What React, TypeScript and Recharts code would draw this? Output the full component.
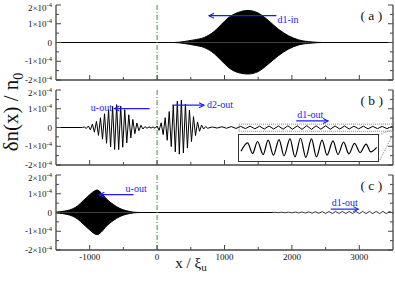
import React from 'react';
import {
  ComposedChart,
  LineChart,
  Line,
  Area,
  XAxis,
  YAxis,
  ReferenceLine,
  ReferenceArea,
} from 'recharts';

// values of δn/n0 are in units of 1e-4
const X_DOMAIN: [number, number] = [-1500, 3500];
const Y_DOMAIN: [number, number] = [-2, 2];
const xTicks = [-1000, -500, 0, 500, 1000, 1500, 2000, 2500, 3000];
const yTicks = [-2, -1.5, -1, -0.5, 0, 0.5, 1, 1.5, 2];
const yTickLabels: Record<string, string> = { '2': '2×10', '1': '1×10', '0': '0', '-1': '-1×10', '-2': '-2×10' };
const panelLabels = ['( a )', '( b )', '( c )'];

// (a) d1-in packet, envelope
const aUpper: [number, number][] = [
  [-1500, 0], [250, 0], [400, 0.05], [550, 0.14], [700, 0.27], [850, 0.6], [950, 0.95], [1050, 1.3],
  [1200, 1.6], [1350, 1.71], [1500, 1.57], [1650, 1.18], [1800, 0.71], [1950, 0.36], [2100, 0.14],
  [2300, 0.03], [2450, 0], [3500, 0],
];
const aLower: [number, number][] = [
  [-1500, 0], [250, 0], [400, -0.05], [550, -0.14], [700, -0.27], [850, -0.6], [950, -0.95], [1050, -1.3],
  [1200, -1.6], [1350, -1.68], [1500, -1.55], [1650, -1.15], [1800, -0.7], [1950, -0.35], [2100, -0.13],
  [2300, -0.03], [2450, 0], [3500, 0],
];

// (b) u-out and d2-out packets, then the d1-out ripple (extrema)
const bWave: [number, number][] = [
  [-1500, 0], [-1110, 0],
  [-1080, 0.03], [-1050, -0.05], [-1020, 0.08], [-990, -0.12], [-960, 0.18], [-930, -0.25], [-900, 0.33],
  [-870, -0.42], [-840, 0.52], [-810, -0.62], [-780, 0.73], [-750, -0.84], [-720, 0.95], [-690, -1.04],
  [-660, 1.13], [-630, -1.17], [-600, 1.22], [-570, -1.18], [-540, 1.14], [-510, -1.05], [-480, 0.95],
  [-450, -0.82], [-420, 0.68], [-390, -0.55], [-360, 0.43], [-330, -0.33], [-300, 0.24], [-270, -0.17],
  [-240, 0.12], [-210, -0.08], [-180, 0.05], [-150, -0.04], [-120, 0.03], [-90, -0.03], [-60, 0.03],
  [-30, -0.04], [0, 0.08], [30, -0.15], [60, 0.25], [90, -0.38], [120, 0.52], [150, -0.68], [180, 0.85],
  [210, -1.02], [240, 1.18], [270, -1.3], [300, 1.4], [330, -1.42], [360, 1.46], [390, -1.36], [420, 1.25],
  [450, -1.1], [480, 0.93], [510, -0.75], [540, 0.58], [570, -0.43], [600, 0.3], [630, -0.2], [660, 0.13],
  [690, -0.08], [720, 0.05], [750, -0.04],
  [820, 0.03], [890, -0.03], [960, 0.04], [1030, -0.04], [1100, 0.05], [1170, -0.05], [1240, 0.06],
  [1310, -0.06], [1380, 0.07], [1450, -0.07], [1520, 0.07], [1590, -0.08], [1660, 0.08], [1730, -0.08],
  [1800, 0.08], [1870, -0.09], [1940, 0.09], [2010, -0.09], [2080, 0.09], [2150, -0.1], [2220, 0.1],
  [2290, -0.1], [2360, 0.09], [2430, -0.09], [2500, 0.09], [2570, -0.09], [2640, 0.08], [2710, -0.08],
  [2780, 0.08], [2850, -0.08], [2920, 0.07], [2990, -0.07], [3060, 0.07], [3130, -0.07], [3200, 0.06],
  [3270, -0.06], [3340, 0.06], [3410, -0.06], [3480, 0.05], [3500, 0.03],
];

// (b) inset: magnified d1-out ripple (extrema, inset scale)
const insetWave: [number, number][] = [
  [1280, -0.25], [1380, 0.4], [1455, -0.42], [1530, 0.5], [1615, -0.5], [1690, 0.6], [1770, -0.55],
  [1855, 0.65], [1930, -0.6], [2020, 0.7], [2095, -0.68], [2180, 0.75], [2260, -0.72], [2345, 0.7],
  [2420, -0.68], [2505, 0.6], [2580, -0.55], [2670, 0.55], [2745, -0.5], [2830, 0.45], [2910, -0.45],
  [2995, 0.35], [3080, -0.35], [3170, 0.3], [3240, -0.3], [3330, 0.05],
];

// (c) u-out packet, envelope, then d1-out ripple
const cUpper: [number, number][] = [
  [-1500, 0.02], [-1450, 0.04], [-1350, 0.09], [-1250, 0.2], [-1180, 0.35], [-1100, 0.62], [-1000, 0.95],
  [-930, 1.15], [-890, 1.2], [-830, 1.05], [-750, 0.72], [-650, 0.43], [-550, 0.21], [-450, 0.09],
  [-350, 0.02], [-250, 0], [1700, 0],
];
const cLower: [number, number][] = [
  [-1500, -0.02], [-1450, -0.04], [-1350, -0.09], [-1250, -0.2], [-1180, -0.35], [-1100, -0.6], [-1000, -0.93],
  [-930, -1.13], [-890, -1.18], [-830, -1.05], [-750, -0.72], [-650, -0.43], [-550, -0.21], [-450, -0.09],
  [-350, -0.02], [-250, 0], [1700, 0],
];
const cRipple: [number, number][] = [
  [1700, 0], [1750, 0.01], [1800, -0.01], [1850, 0.015], [1900, -0.015], [1950, 0.02], [2000, -0.02],
  [2050, 0.025], [2100, -0.025], [2150, 0.03], [2200, -0.03], [2250, 0.035], [2300, -0.035], [2350, 0.04],
  [2400, -0.04], [2450, 0.045], [2500, -0.045], [2550, 0.05], [2600, -0.05], [2650, 0.05], [2700, -0.05],
  [2750, 0.055], [2800, -0.055], [2850, 0.055], [2900, -0.055], [2950, 0.06], [3000, -0.06], [3050, 0.06],
  [3100, -0.06], [3150, 0.06], [3200, -0.06], [3250, 0.06], [3300, -0.06], [3350, 0.06], [3400, -0.06],
  [3450, 0.06], [3500, -0.05],
];

// arrows with labels, [x, y] in data units
const arrows = [
  { panel: 0, from: [1770, 1.43], to: [770, 1.43], text: 'd1-in', at: 'from', dx: 1, dy: 7 },
  { panel: 1, from: [-110, 1.01], to: [-633, 1.01], text: 'u-out', at: 'to', dx: -2.5, dy: 2, anchor: 'end' },
  { panel: 1, from: [224, 1.19], to: [696, 1.19], text: 'd2-out', at: 'to', dx: 3, dy: 3 },
  { panel: 1, from: [2064, 0.35], to: [2537, 0.35], text: 'd1-out', at: 'from', dx: 1, dy: -3 },
  { panel: 2, from: [-349, 0.95], to: [-857, 0.95], text: 'u-out', at: 'from', dx: -8, dy: -3 },
  { panel: 2, from: [2577, 0.18], to: [2985, 0.18], text: 'd1-out', at: 'from', dx: 1, dy: -3 },
];

const FONT = '"Liberation Serif", "Times New Roman", Times, serif';
const BLUE = '#1c1cff';
const FRAME = '#454545';
const GREEN = '#3a9a3a';

const pts = (arr: [number, number][]) => arr.map(([x, y]) => ({ x, y }));

function XTick({ x, y, payload, side, showLabel }: any) {
  const v = payload.value;
  const major = v % 1000 === 0;
  const len = major ? 5 : 3;
  const dir = side === 'top' ? 1 : -1;
  return (
    <g>
      <line x1={x} y1={y} x2={x} y2={y + dir * len} stroke={FRAME} strokeWidth={1} />
      {showLabel && major && (
        <text x={x} y={y + 10} textAnchor="middle" fontSize={9} fontFamily={FONT} fill="#111">
          {v}
        </text>
      )}
    </g>
  );
}

function YTick({ x, y, payload, side }: any) {
  const v = payload.value;
  const major = Number.isInteger(v);
  const len = major ? 5 : 3;
  const dir = side === 'left' ? 1 : -1;
  const lbl = side === 'left' && major ? yTickLabels[String(v)] : null;
  // the top label sits a little lower, as in the figure
  const base = v === 2 ? y + 5.5 : y + 3;
  return (
    <g>
      <line x1={x} y1={y} x2={x + dir * len} y2={y} stroke={FRAME} strokeWidth={1} />
      {lbl && (
        <text x={x - 4} y={base} textAnchor="end" fontSize={9} fontFamily={FONT} fill="#111">
          {lbl}
          {v !== 0 && (
            <tspan dy={-3.5} fontSize={6.5}>
              -4
            </tspan>
          )}
        </text>
      )}
    </g>
  );
}

const arrowShape = (a: any) => (p: any) => {
  const { x1, y1, x2, y2 } = p;
  const dir = x2 > x1 ? 1 : -1;
  const tx = (a.at === 'from' ? x1 : x2) + a.dx;
  const ty = (a.at === 'from' ? y1 : y2) + a.dy;
  return (
    <g>
      <line x1={x1} y1={y1} x2={x2} y2={y2} stroke={BLUE} strokeWidth={1.2} />
      <path
        d={`M${x2 - dir * 5},${y2 - 2.5} L${x2},${y2} L${x2 - dir * 5},${y2 + 2.5}`}
        fill="none"
        stroke={BLUE}
        strokeWidth={1.1}
      />
      <text x={tx} y={ty} textAnchor={a.anchor || 'start'} fontSize={10} fontFamily={FONT} fill={BLUE}>
        {a.text}
      </text>
    </g>
  );
};

function Panel({ index, top, height, xAxisHeight, showXLabels, children }: any) {
  return (
    <div style={{ position: 'absolute', left: 0, top, width: 395, height }}>
      <ComposedChart width={395} height={height} margin={{ top: 5, right: 0, bottom: 0, left: 0 }}>
        <XAxis
          type="number"
          dataKey="x"
          domain={X_DOMAIN}
          allowDataOverflow
          ticks={xTicks}
          interval={0}
          height={xAxisHeight}
          tickSize={0}
          tickMargin={0}
          tickLine={false}
          axisLine={{ stroke: FRAME, strokeWidth: 1.3 }}
          tick={(p: any) => <XTick {...p} side="bottom" showLabel={showXLabels} />}
        />
        <XAxis
          xAxisId="t"
          orientation="top"
          type="number"
          dataKey="x"
          domain={X_DOMAIN}
          allowDataOverflow
          ticks={xTicks}
          interval={0}
          height={0}
          tickSize={0}
          tickMargin={0}
          tickLine={false}
          axisLine={{ stroke: FRAME, strokeWidth: 1.3 }}
          tick={(p: any) => <XTick {...p} side="top" />}
        />
        <YAxis
          type="number"
          domain={Y_DOMAIN}
          allowDataOverflow
          ticks={yTicks}
          interval={0}
          width={56}
          tickSize={0}
          tickMargin={0}
          tickLine={false}
          axisLine={{ stroke: FRAME, strokeWidth: 1.3 }}
          tick={(p: any) => <YTick {...p} side="left" />}
        />
        <YAxis
          yAxisId="r"
          orientation="right"
          type="number"
          domain={Y_DOMAIN}
          allowDataOverflow
          ticks={yTicks}
          interval={0}
          width={2}
          tickSize={0}
          tickMargin={0}
          tickLine={false}
          axisLine={{ stroke: FRAME, strokeWidth: 1.3 }}
          tick={(p: any) => <YTick {...p} side="right" />}
        />
        <ReferenceLine x={0} stroke={GREEN} strokeWidth={1} strokeDasharray="5 2 1 2" />
        {children}
        {arrows
          .filter((a) => a.panel === index)
          .map((a, i) => (
            <ReferenceLine
              key={`arrow-${i}`}
              segment={[
                { x: a.from[0], y: a.from[1] },
                { x: a.to[0], y: a.to[1] },
              ]}
              shape={arrowShape(a)}
            />
          ))}
      </ComposedChart>
    </div>
  );
}

export default function App() {
  return (
    <div style={{ position: 'absolute', left: 0, top: 0, width: 395, height: 284, background: '#fff' }}>
      <Panel index={0} top={0} height={85} xAxisHeight={5}>
        <Area data={pts(aUpper)} dataKey="y" type="monotone" baseValue={0} stroke="#000" strokeWidth={1} fill="#000" fillOpacity={1} isAnimationActive={false} />
        <Area data={pts(aLower)} dataKey="y" type="monotone" baseValue={0} stroke="#000" strokeWidth={1} fill="#000" fillOpacity={1} isAnimationActive={false} />
      </Panel>

      <Panel index={1} top={85} height={85} xAxisHeight={5}>
        <Line data={pts(bWave)} dataKey="y" type="linear" stroke="#000" strokeWidth={1} dot={false} isAnimationActive={false} />
        <ReferenceArea x1={1215} x2={3500} y1={-0.2} y2={0.18} fill="none" stroke="#888" strokeDasharray="1 1" strokeWidth={1} />
        <ReferenceLine segment={[{ x: 3500, y: -0.1 }, { x: 3300, y: -0.37 }]} stroke="#888" strokeDasharray="1 1" />
        <ReferenceLine segment={[{ x: 3500, y: -0.35 }, { x: 3300, y: -1.78 }]} stroke="#888" strokeDasharray="1 1" />
      </Panel>

      <Panel index={2} top={170} height={100} xAxisHeight={20} showXLabels>
        <Area data={pts(cUpper)} dataKey="y" type="monotone" baseValue={0} stroke="#000" strokeWidth={1} fill="#000" fillOpacity={1} isAnimationActive={false} />
        <Area data={pts(cLower)} dataKey="y" type="monotone" baseValue={0} stroke="#000" strokeWidth={1} fill="#000" fillOpacity={1} isAnimationActive={false} />
        <Line data={pts(cRipple)} dataKey="y" type="linear" stroke="#000" strokeWidth={0.8} dot={false} isAnimationActive={false} />
      </Panel>

      {/* inset of panel (b) */}
      <div style={{ position: 'absolute', left: 238, top: 134, width: 139, height: 26, border: '1px solid #333', background: '#fff' }}>
        <LineChart width={139} height={26} margin={{ top: 0, right: 0, bottom: 0, left: 0 }}>
          <XAxis type="number" dataKey="x" domain={[1250, 3350]} hide />
          <YAxis type="number" domain={[-1, 1]} hide />
          <Line data={pts(insetWave)} dataKey="y" type="monotone" stroke="#000" strokeWidth={1.2} dot={false} isAnimationActive={false} />
        </LineChart>
      </div>

      <svg width={395} height={284} style={{ position: 'absolute', left: 0, top: 0, pointerEvents: 'none' }}>
        <g fontFamily={FONT} fill="#111">
          {panelLabels.map((t, i) => (
            <text key={t} x={360.5} y={20 + i * 85} fontSize={13.5}>
              {t}
            </text>
          ))}
          <text transform="translate(18,112) rotate(-90)" textAnchor="middle" fontSize={21}>
            δn(x) / n
            <tspan fontSize={14} dy={5}>
              0
            </tspan>
          </text>
          <text x={191} y={268} textAnchor="middle" fontSize={15}>
            x / ξ
            <tspan fontSize={11} dy={3}>
              u
            </tspan>
          </text>
        </g>
      </svg>
    </div>
  );
}
